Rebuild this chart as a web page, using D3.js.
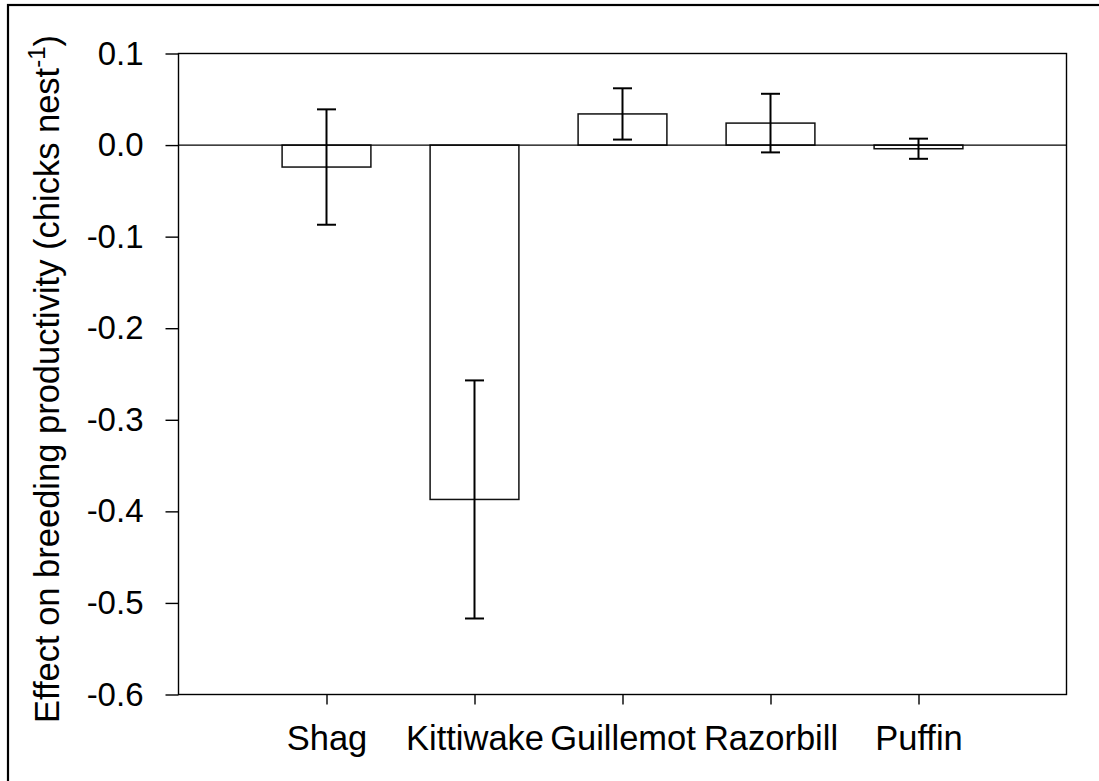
<!DOCTYPE html>
<html>
<head>
<meta charset="utf-8">
<script src="https://cdn.jsdelivr.net/npm/d3@7/dist/d3.min.js"></script>
<style>
  html, body { margin: 0; padding: 0; background: #fff; }
  svg { display: block; font-family: "Liberation Sans", Arial, sans-serif; }
</style>
</head>
<body>
<svg id="chart" width="1099" height="781"></svg>
<script>
// ---- data ----
const categories = ["Shag", "Kittiwake", "Guillemot", "Razorbill", "Puffin"];
const effects = [-0.024, -0.387, 0.034, 0.024, -0.004];
const errors = [0.063, 0.130, 0.028, 0.032, 0.011];
const yTicks = [-0.6, -0.5, -0.4, -0.3, -0.2, -0.1, 0.0, 0.1];
const yTickLabels = ["-0.6", "-0.5", "-0.4", "-0.3", "-0.2", "-0.1", "0.0", "0.1"];

(function () {
const svg = d3.select("#chart");
const pL = 178.5, pR = 1066.5, pT = 53.5, pB = 694.5;
const FF = "'Liberation Sans', Arial, sans-serif";

const x = d3.scalePoint().domain(categories).range([pL, pR]).padding(1);
const y = d3.scaleLinear().domain([-0.6, 0.1]).range([pB, pT]);
const barW = x.step() * 0.6;
const capW = 19;

// outer frame (left & top visible)
svg.append("rect")
  .attr("x", 8).attr("y", 5).attr("width", 1100).attr("height", 800)
  .attr("fill", "none").attr("stroke", "#000").attr("stroke-width", 2.2);

// bars
svg.append("g").selectAll("rect").data(categories).join("rect")
  .attr("x", d => x(d) - barW / 2)
  .attr("y", (d, i) => y(Math.max(0, effects[i])))
  .attr("width", barW)
  .attr("height", (d, i) => Math.abs(y(effects[i]) - y(0)))
  .attr("fill", "#fff").attr("stroke", "#111").attr("stroke-width", 1.5);

// zero line
svg.append("line")
  .attr("x1", pL).attr("x2", pR).attr("y1", y(0)).attr("y2", y(0))
  .attr("stroke", "#000").attr("stroke-width", 1.2);

// error bars
const eb = svg.append("g").attr("stroke", "#000").attr("stroke-width", 2);
categories.forEach((c, i) => {
  const cx = x(c), hi = y(effects[i] + errors[i]), lo = y(effects[i] - errors[i]);
  eb.append("line").attr("x1", cx).attr("x2", cx).attr("y1", hi).attr("y2", lo);
  eb.append("line").attr("x1", cx - capW / 2).attr("x2", cx + capW / 2).attr("y1", hi).attr("y2", hi);
  eb.append("line").attr("x1", cx - capW / 2).attr("x2", cx + capW / 2).attr("y1", lo).attr("y2", lo);
});

// plot frame
svg.append("rect")
  .attr("x", pL).attr("y", pT).attr("width", pR - pL).attr("height", pB - pT)
  .attr("fill", "none").attr("stroke", "#000").attr("stroke-width", 1.4);

// y axis
const yAxis = svg.append("g").attr("transform", `translate(${pL},0)`)
  .call(d3.axisLeft(y).tickValues(yTicks).tickFormat((d, i) => yTickLabels[i])
    .tickSize(13).tickSizeOuter(0).tickPadding(22));
yAxis.select(".domain").remove();
yAxis.selectAll("line").attr("stroke", "#000").attr("stroke-width", 1.4);
yAxis.selectAll("text").attr("font-size", 33).attr("fill", "#000").attr("font-family", FF);

// x axis
const xAxis = svg.append("g").attr("transform", `translate(0,${pB})`)
  .call(d3.axisBottom(x).tickSize(10).tickSizeOuter(0).tickPadding(21));
xAxis.select(".domain").remove();
xAxis.selectAll("line").attr("stroke", "#000").attr("stroke-width", 1.4);
xAxis.selectAll("text").attr("font-size", 34.5).attr("fill", "#000").attr("font-family", FF);

// y label
const yl = svg.append("text")
  .attr("transform", "translate(59,379) rotate(-90)")
  .attr("text-anchor", "middle").attr("font-size", 34.5).attr("fill", "#000")
  .attr("font-family", FF);
yl.append("tspan").text("Effect on breeding productivity (chicks nest");
yl.append("tspan").attr("dy", -14).attr("font-size", 24).text("-1");
yl.append("tspan").attr("dy", 14).text(")");
})();
</script>
</body>
</html>
